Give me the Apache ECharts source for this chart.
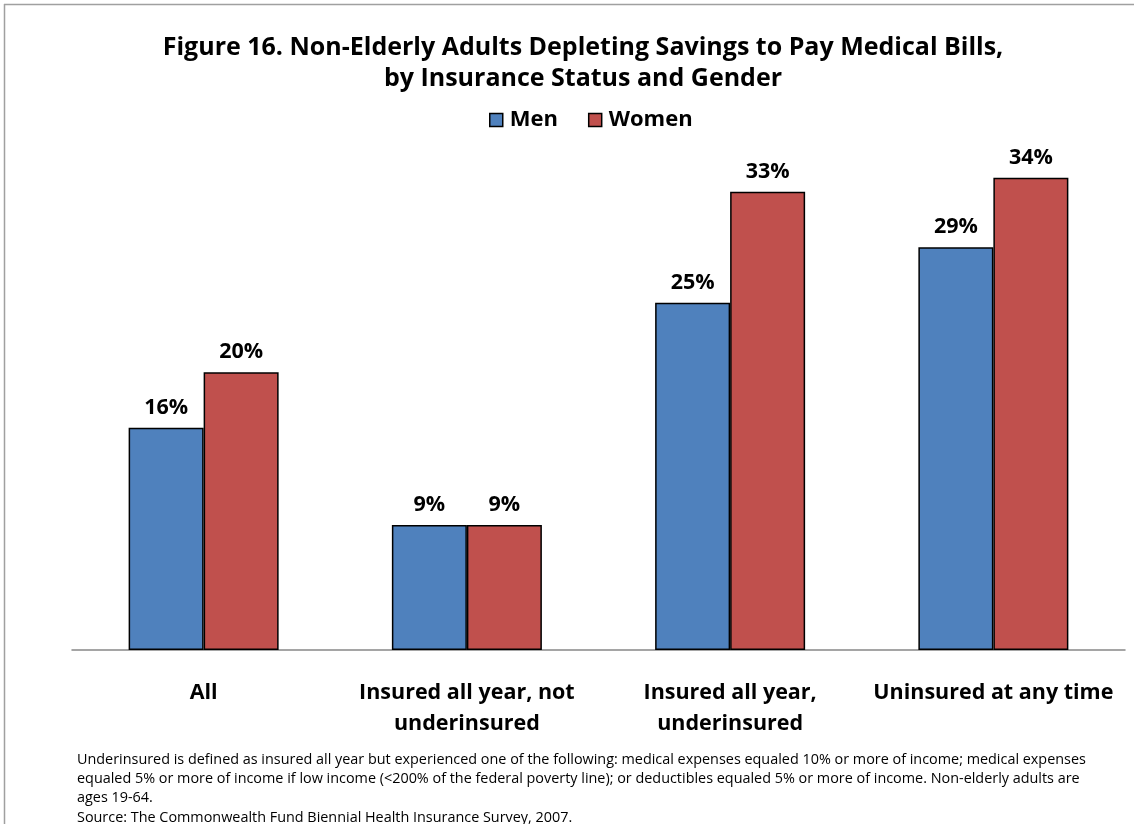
<!DOCTYPE html>
<html><head><meta charset="utf-8">
<script src="https://cdn.jsdelivr.net/npm/echarts@6/dist/echarts.min.js"></script>
<style>html,body{margin:0;padding:0;background:#fff}#c{width:1134px;height:824px}</style>
</head><body><div id="c"></div>
<script>
const categories = ['All', 'Insured all year, not\nunderinsured', 'Insured all year,\nunderinsured', 'Uninsured at any time'];
const men = [16, 9, 25, 29];
const women = [20, 9, 33, 34];
const seriesNames = ['Men', 'Women'];
const titleText = 'Figure 16. Non-Elderly Adults Depleting Savings to Pay Medical Bills,\nby Insurance Status and Gender';
const noteText = 'Underinsured is defined as insured all year but experienced one of the following: medical expenses equaled 10% or more of income; medical expenses\nequaled 5% or more of income if low income (<200% of the federal poverty line); or deductibles equaled 5% or more of income. Non-elderly adults are\nages 19-64.\nSource: The Commonwealth Fund Biennial Health Insurance Survey, 2007.';

const font = 'Open Sans';
const chart = echarts.init(document.getElementById('c'));
const labelCfg = {show: true, position: 'top', distance: 9, formatter: '{c}%', fontFamily: font, fontWeight: 'bold', fontSize: 21.5, color: '#000'};
chart.setOption({
  animation: false,
  title: {text: titleText, left: 578, textAlign: 'center', top: 27, textStyle: {fontFamily: font, fontWeight: 'bold', fontSize: 25, lineHeight: 31, color: '#000'}},
  legend: {data: seriesNames, top: 104, left: 484, icon: 'rect', itemWidth: 13, itemHeight: 13, itemGap: 30,
    textStyle: {fontFamily: font, fontWeight: 'bold', fontSize: 22, color: '#000', padding: [0,0,0,2]},
    itemStyle: {borderColor: '#000', borderWidth: 1.5}},
  grid: {left: 72, right: 9, top: 94.4, bottom: 174, containLabel: false},
  xAxis: {type: 'category', data: categories,
    axisLine: {lineStyle: {color: '#888', width: 1.5}}, axisTick: {show: false},
    axisLabel: {interval: 0, margin: 27, fontFamily: font, fontWeight: 'bold', fontSize: 21.5, lineHeight: 31, color: '#000'}},
  yAxis: {type: 'value', min: 0, max: 40, show: false, splitLine: {show: false}},
  series: [
    {name: seriesNames[0], type: 'bar', data: men, barWidth: 75, barGap: '0%',
      itemStyle: {color: '#4F81BD', borderColor: '#000', borderWidth: 1.5}, label: labelCfg},
    {name: seriesNames[1], type: 'bar', data: women, barWidth: 75, barGap: '0%',
      itemStyle: {color: '#C0504D', borderColor: '#000', borderWidth: 1.5}, label: labelCfg}
  ],
  graphic: [
    {type: 'line', shape: {x1: 4, y1: 4.5, x2: 1134, y2: 4.5}, style: {stroke: '#a0a0a0', lineWidth: 1.5}},
    {type: 'line', shape: {x1: 4.5, y1: 4, x2: 4.5, y2: 824}, style: {stroke: '#a0a0a0', lineWidth: 1.5}},
    {type: 'text', left: 77, top: 750, style: {text: noteText, fontFamily: font, fontSize: 14.4, lineHeight: 19.3, fill: '#000'}}
  ]
});
</script></body></html>
